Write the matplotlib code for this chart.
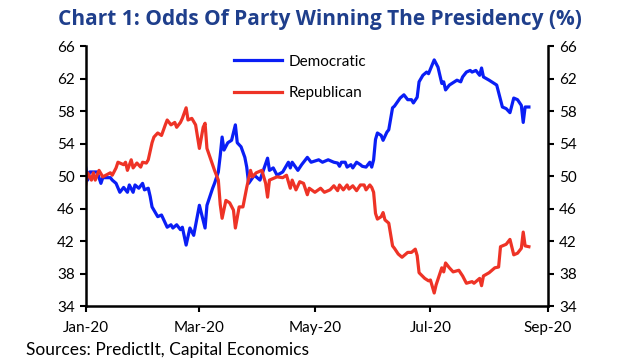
import matplotlib
matplotlib.use("Agg")
import matplotlib.pyplot as plt
import matplotlib.dates as mdates
import pandas as pd

title = "Chart 1: Odds Of Party Winning The Presidency (%)"
source = "Sources: PredictIt, Capital Economics"

dem_dates = ["2020-01-01","2020-01-02","2020-01-03","2020-01-06","2020-01-07","2020-01-09","2020-01-10",
             "2020-01-14","2020-01-15","2020-01-17","2020-01-19","2020-01-21","2020-01-23","2020-01-24",
             "2020-01-26","2020-01-27","2020-01-29","2020-01-31","2020-02-01","2020-02-03","2020-02-04",
             "2020-02-05","2020-02-07","2020-02-08","2020-02-10","2020-02-12","2020-02-13","2020-02-15",
             "2020-02-16","2020-02-18","2020-02-20","2020-02-21","2020-02-23","2020-02-25","2020-02-27",
             "2020-03-01","2020-03-04","2020-03-05","2020-03-08","2020-03-09","2020-03-11","2020-03-12",
             "2020-03-13","2020-03-14","2020-03-16","2020-03-18","2020-03-20","2020-03-21","2020-03-23",
             "2020-03-25","2020-03-26","2020-03-27","2020-03-30","2020-04-02","2020-04-06","2020-04-07",
             "2020-04-09","2020-04-11","2020-04-14","2020-04-17","2020-04-18","2020-04-19","2020-04-22",
             "2020-04-24","2020-04-27","2020-04-29","2020-05-03","2020-05-05","2020-05-08","2020-05-11",
             "2020-05-13","2020-05-14","2020-05-15","2020-05-17","2020-05-18","2020-05-20","2020-05-21",
             "2020-05-23","2020-05-25","2020-05-26","2020-05-28","2020-05-30","2020-05-31","2020-06-01",
             "2020-06-02","2020-06-03","2020-06-05","2020-06-06","2020-06-08","2020-06-09","2020-06-11",
             "2020-06-12","2020-06-15","2020-06-17","2020-06-19","2020-06-21","2020-06-22","2020-06-24",
             "2020-06-25","2020-06-27","2020-06-29","2020-06-30","2020-07-03","2020-07-05","2020-07-07",
             "2020-07-08","2020-07-09","2020-07-11","2020-07-15","2020-07-17","2020-07-18","2020-07-20",
             "2020-07-22","2020-07-23","2020-07-25","2020-07-27","2020-07-28","2020-07-29","2020-08-01",
             "2020-08-05","2020-08-08","2020-08-10","2020-08-12","2020-08-14","2020-08-16","2020-08-18",
             "2020-08-19","2020-08-20","2020-08-22"]
dem_values = [51.0,49.5,50.5,50.5,50.5,49.1,49.8,
              49.8,49.5,49.1,48.0,48.6,48.0,48.9,
              48.0,48.9,48.5,49.1,48.3,48.5,47.5,
              46.2,45.4,45.0,45.2,44.2,43.7,44.0,
              43.6,44.0,43.4,43.7,41.5,43.6,42.7,
              46.4,43.6,46.4,48.5,49.1,50.5,52.5,
              54.8,53.2,54.1,54.4,56.3,54.1,53.6,
              52.3,51.1,49.1,50.1,49.5,52.2,50.7,
              51.0,50.1,50.5,51.7,51.0,51.7,50.7,
              51.4,52.3,51.7,52.0,51.7,52.0,51.7,
              51.6,51.2,51.7,51.7,51.1,51.4,51.0,
              51.7,51.4,51.2,51.1,51.7,51.1,52.0,
              54.5,55.3,55.0,54.4,55.4,55.7,58.4,
              58.6,59.6,60.0,59.4,59.4,59.0,59.7,
              61.6,62.4,62.8,62.6,64.3,63.4,61.4,
              61.6,60.6,61.2,61.8,61.6,62.2,62.8,
              63.0,62.8,63.0,62.4,63.3,62.2,61.8,
              61.2,58.5,58.3,57.8,59.6,59.4,58.7,
              56.6,58.5,58.5]

rep_dates = ["2020-01-01","2020-01-02","2020-01-04","2020-01-05","2020-01-06","2020-01-08","2020-01-10",
             "2020-01-14","2020-01-15","2020-01-17","2020-01-18","2020-01-21","2020-01-22","2020-01-23",
             "2020-01-25","2020-01-26","2020-01-28","2020-01-30","2020-01-31","2020-02-02","2020-02-03",
             "2020-02-05","2020-02-06","2020-02-08","2020-02-10","2020-02-12","2020-02-13","2020-02-15",
             "2020-02-17","2020-02-18","2020-02-20","2020-02-21","2020-02-23","2020-02-24","2020-02-26",
             "2020-02-28","2020-03-01","2020-03-03","2020-03-04","2020-03-05","2020-03-08","2020-03-09",
             "2020-03-11","2020-03-12","2020-03-13","2020-03-15","2020-03-17","2020-03-19","2020-03-20",
             "2020-03-22","2020-03-24","2020-03-26","2020-03-28","2020-03-29","2020-03-31","2020-04-03",
             "2020-04-05","2020-04-06","2020-04-07","2020-04-11","2020-04-14","2020-04-16","2020-04-18",
             "2020-04-19","2020-04-21","2020-04-23","2020-04-25","2020-04-27","2020-04-28","2020-05-01",
             "2020-05-04","2020-05-06","2020-05-09","2020-05-11","2020-05-13","2020-05-14","2020-05-16",
             "2020-05-18","2020-05-19","2020-05-21","2020-05-23","2020-05-25","2020-05-27","2020-05-28",
             "2020-05-30","2020-05-31","2020-06-01","2020-06-02","2020-06-03","2020-06-05","2020-06-06",
             "2020-06-07","2020-06-09","2020-06-11","2020-06-12","2020-06-14","2020-06-16","2020-06-19",
             "2020-06-21","2020-06-23","2020-06-24","2020-06-25","2020-06-28","2020-06-30","2020-07-01",
             "2020-07-03","2020-07-04","2020-07-07","2020-07-08","2020-07-09","2020-07-11","2020-07-13",
             "2020-07-16","2020-07-18","2020-07-20","2020-07-23","2020-07-24","2020-07-27","2020-07-28",
             "2020-07-29","2020-08-01","2020-08-04","2020-08-06","2020-08-07","2020-08-10","2020-08-12",
             "2020-08-14","2020-08-16","2020-08-18","2020-08-19","2020-08-20","2020-08-22"]
rep_values = [49.0,50.4,49.5,50.4,49.5,50.7,49.9,
              50.4,50.1,51.0,51.7,51.4,51.7,50.7,
              52.0,51.0,51.6,51.1,51.7,51.6,52.0,
              54.1,54.8,55.3,55.0,56.3,56.9,56.3,
              56.6,56.0,56.6,57.1,58.4,56.9,57.1,
              56.3,53.4,56.0,56.5,53.4,51.4,50.7,
              49.5,46.5,44.8,47.0,46.7,45.8,43.6,
              46.2,46.2,48.6,50.7,49.9,50.4,50.7,
              49.1,47.4,49.5,49.9,49.8,50.1,48.5,
              49.5,48.3,49.3,49.1,47.7,48.5,48.0,
              48.5,48.0,48.3,48.8,48.2,48.9,48.3,
              48.9,48.4,48.8,48.2,48.9,48.9,48.3,
              48.9,48.6,48.0,45.4,44.7,45.0,45.5,
              44.6,44.2,41.4,41.1,40.4,40.0,40.6,
              40.6,41.0,40.2,38.1,37.4,37.1,37.2,
              35.6,36.6,38.7,38.2,39.3,38.7,38.2,
              38.4,37.7,36.8,37.0,36.8,37.4,36.5,
              37.7,38.1,38.7,38.8,41.3,41.6,42.2,
              40.3,40.5,41.1,43.1,41.4,41.3]

series_labels = ["Democratic", "Republican"]
y_ticks = [34, 38, 42, 46, 50, 54, 58, 62, 66]
x_ticks = ["2020-01-01", "2020-03-01", "2020-05-01", "2020-07-01", "2020-09-01"]

plt.rcParams['font.family'] = ['Lato', 'DejaVu Sans']

fig = plt.figure(figsize=(6.4, 3.6), dpi=100)
ax = fig.add_axes([0.134, 0.15, 0.722, 0.722])

ax.plot(pd.to_datetime(dem_dates), dem_values, color="#0A1EF5", lw=2.3, label=series_labels[0])
ax.plot(pd.to_datetime(rep_dates), rep_values, color="#EE3326", lw=2.3, label=series_labels[1])

ax.set_xlim(pd.Timestamp(x_ticks[0]), pd.Timestamp(x_ticks[-1]))
ax.set_ylim(y_ticks[0], y_ticks[-1])
ax.set_xticks(pd.to_datetime(x_ticks))
ax.xaxis.set_major_formatter(mdates.DateFormatter("%b-%y"))
ax.set_yticks(y_ticks)
ax.tick_params(axis='y', which='both', left=True, right=True, labelleft=True, labelright=True,
               direction='out', length=4, width=1.5, labelsize=11, pad=4)
ax.tick_params(axis='x', direction='out', length=4, width=1.5, labelsize=11, pad=7)

for s in ["left", "right", "bottom"]:
    ax.spines[s].set_linewidth(1.8)
    ax.spines[s].set_color("black")
ax.spines["top"].set_visible(False)

leg = ax.legend(loc="upper left", bbox_to_anchor=(0.29, 1.02), frameon=False, fontsize=11,
                handlelength=3.2, handletextpad=0.4, labelspacing=1.15)

fig.text(0.5, 0.945, title, ha="center", va="center", fontsize=15, fontweight="bold",
         color="#1F3F8C", family=["Liberation Sans Narrow", "Open Sans", "DejaVu Sans"])
fig.text(0.04, 0.006, source, ha="left", va="bottom", fontsize=12.5)

fig.savefig("out.png", dpi=100)
